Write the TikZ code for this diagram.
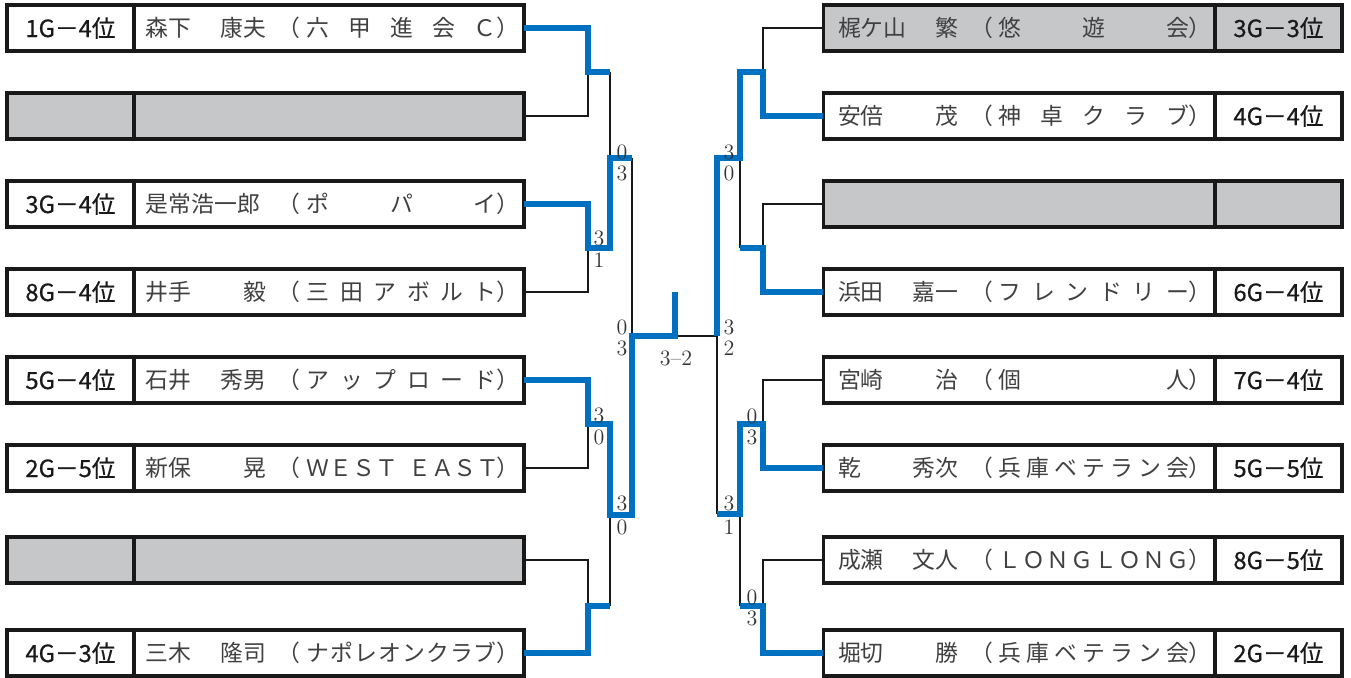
\documentclass[tikz,border=0pt]{standalone}
\usepackage{fontspec}
\usetikzlibrary{positioning}

\newfontfamily\jpfont{Noto Sans CJK JP}
\newfontfamily\rankfont{Noto Sans CJK JP}[FakeBold=0.6]
\newlength\pxu
\setlength\pxu{0.02cm}
\definecolor{winblue}{RGB}{0,112,192}
\definecolor{boxgray}{RGB}{198,199,201}
% name, given name, club (club letters spread with \hfill)
\newcommand{\meibo}[4][12]{\makebox[390\pxu][l]{\hspace*{#1\pxu}\makebox[120\pxu][s]{#2\hfill #3}\hspace*{12\pxu}（\hspace*{6\pxu}\makebox[190\pxu][s]{#4}）}}

\tikzset{
  rankbox/.style={draw=black!90, line width=1.8pt, outer sep=0pt, inner sep=0pt,
    minimum width=2.54cm, minimum height=0.92cm, text=black!90,
    font=\rankfont\fontsize{13.5}{14}\selectfont},
  namebox/.style={draw=black!90, line width=1.8pt, outer sep=0pt, inner sep=0pt,
    minimum width=7.8cm, minimum height=0.92cm, text=black!75,
    font=\jpfont\fontsize{13}{14}\selectfont},
  vacant/.style={fill=boxgray},
  score/.style={inner sep=0pt, text=black!80, font=\fontsize{12.5}{12.5}\selectfont},
  bline/.style={draw=black!90, line width=1.5pt},
  wline/.style={draw=winblue, line width=3.4pt}
}

\begin{document}
\begin{tikzpicture}[x=0.02cm, y=-0.02cm]
        \useasboundingbox (0,0) rectangle (1351,677);

        % left half
        \node[rankbox] (L1r) at (70.5,28) {1G－4位};
        \node[namebox, right=0pt of L1r] (L1n) {\meibo{森下}{康夫}{六\hfill 甲\hfill 進\hfill 会\hfill Ｃ}};
        \node[rankbox, vacant] (L2r) at (70.5,116) {};
        \node[namebox, vacant, right=0pt of L2r] (L2n) {};
        \node[rankbox] (L3r) at (70.5,204) {3G－4位};
        \node[namebox, right=0pt of L3r] (L3n) {\meibo{是常浩一郎}{}{ポ\hfill パ\hfill イ}};
        \node[rankbox] (L4r) at (70.5,292) {8G－4位};
        \node[namebox, right=0pt of L4r] (L4n) {\meibo{井手}{毅}{三\hfill 田\hfill ア\hfill ボ\hfill ル\hfill ト}};
        \node[rankbox] (L5r) at (70.5,380) {5G－4位};
        \node[namebox, right=0pt of L5r] (L5n) {\meibo{石井}{秀男}{ア\hfill ッ\hfill プ\hfill ロ\hfill ー\hfill ド}};
        \node[rankbox] (L6r) at (70.5,468) {2G－5位};
        \node[namebox, right=0pt of L6r] (L6n) {\meibo{新保}{晃}{Ｗ\hfill Ｅ\hfill Ｓ\hfill Ｔ\hspace*{10\pxu}\hfill Ｅ\hfill Ａ\hfill Ｓ\hfill Ｔ}};
        \node[rankbox, vacant] (L7r) at (70.5,560) {};
        \node[namebox, vacant, right=0pt of L7r] (L7n) {};
        \node[rankbox] (L8r) at (70.5,653) {4G－3位};
        \node[namebox, right=0pt of L8r] (L8n) {\meibo{三木}{隆司}{ナ\hfill ポ\hfill レ\hfill オ\hfill ン\hfill ク\hfill ラ\hfill ブ}};

        % right half
        \node[rankbox, vacant] (R1r) at (1278.5,28) {3G－3位};
        \node[namebox, vacant, minimum width=7.84cm, left=0pt of R1r] (R1n) {\meibo[14]{梶ケ山}{繁}{悠\hfill 遊\hfill 会}};
        \node[rankbox] (R2r) at (1278.5,116) {4G－4位};
        \node[namebox, minimum width=7.84cm, left=0pt of R2r] (R2n) {\meibo[14]{安倍}{茂}{神\hfill 卓\hfill ク\hfill ラ\hfill ブ}};
        \node[rankbox, vacant] (R3r) at (1278.5,204) {};
        \node[namebox, vacant, minimum width=7.84cm, left=0pt of R3r] (R3n) {};
        \node[rankbox] (R4r) at (1278.5,292) {6G－4位};
        \node[namebox, minimum width=7.84cm, left=0pt of R4r] (R4n) {\meibo[14]{浜田}{嘉一}{フ\hfill レ\hfill ン\hfill ド\hfill リ\hfill ー}};
        \node[rankbox] (R5r) at (1278.5,380) {7G－4位};
        \node[namebox, minimum width=7.84cm, left=0pt of R5r] (R5n) {\meibo[14]{宮崎}{治}{個\hfill 人}};
        \node[rankbox] (R6r) at (1278.5,468) {5G－5位};
        \node[namebox, minimum width=7.84cm, left=0pt of R6r] (R6n) {\meibo[14]{乾}{秀次}{兵\hfill 庫\hfill ベ\hfill テ\hfill ラ\hfill ン\hfill 会}};
        \node[rankbox] (R7r) at (1278.5,560) {8G－5位};
        \node[namebox, minimum width=7.84cm, left=0pt of R7r] (R7n) {\meibo[14]{成瀬}{文人}{Ｌ\hfill Ｏ\hfill Ｎ\hfill Ｇ\hfill Ｌ\hfill Ｏ\hfill Ｎ\hfill Ｇ}};
        \node[rankbox] (R8r) at (1278.5,653) {2G－4位};
        \node[namebox, minimum width=7.84cm, left=0pt of R8r] (R8n) {\meibo[14]{堀切}{勝}{兵\hfill 庫\hfill ベ\hfill テ\hfill ラ\hfill ン\hfill 会}};

        % junctions
        \coordinate (la1) at (588,72);
        \coordinate (la2) at (588,248);
        \coordinate (la3) at (588,424);
        \coordinate (la4) at (588,606);
        \coordinate (lb1) at (610,158);
        \coordinate (lb2) at (610,515);
        \coordinate (lc) at (632,336);
        \coordinate (ra1) at (763,72);
        \coordinate (ra2) at (763,248);
        \coordinate (ra3) at (763,424);
        \coordinate (ra4) at (763,606);
        \coordinate (rb1) at (740,158);
        \coordinate (rb2) at (740,514);
        \coordinate (rc) at (717,336);
        \coordinate (fin) at (675,336);
        \coordinate (champ) at (675,292);

        % losers
        \draw[bline] (L2n.east) -| (la1);
        \draw[bline] (L4n.east) -| (la2);
        \draw[bline] (L6n.east) -| (la3);
        \draw[bline] (L7n.east) -| (la4);
        \draw[bline] (la1 -| lb1) -- (lb1);
        \draw[bline] (la4 -| lb2) -- (lb2);
        \draw[bline] (lb1 -| lc) -- (lc);
        \draw[bline] (fin) -- (rc);
        \draw[bline] (R1n.west) -| (ra1);
        \draw[bline] (R3n.west) -| (ra2);
        \draw[bline] (R5n.west) -| (ra3);
        \draw[bline] (R7n.west) -| (ra4);
        \draw[bline] (ra2 -| rb1) -- (rb1);
        \draw[bline] (ra4 -| rb2) -- (rb2);
        \draw[bline] (rb2 -| rc) -- (rc);

        % winners
        \draw[wline] (L1n.east) -| (la1) -- (la1 -| lb1);
        \draw[wline] (L3n.east) -| (la2) -- (la2 -| lb1) -- (lb1) -- (lb1 -| lc);
        \draw[wline] (L5n.east) -| (la3) -- (la3 -| lb2) -- (lb2) -- (lb2 -| lc) -- (lc) -- (fin) -- (champ);
        \draw[wline] (L8n.east) -| (la4) -- (la4 -| lb2);
        \draw[wline] (R2n.west) -| (ra1) -- (ra1 -| rb1) -- (rb1) -- (rb1 -| rc) -- (rc);
        \draw[wline] (R4n.west) -| (ra2) -- (ra2 -| rb1);
        \draw[wline] (R6n.west) -| (ra3) -- (ra3 -| rb2) -- (rb2) -- (rb2 -| rc);
        \draw[wline] (R8n.west) -| (ra4) -- (ra4 -| rb2);

        % scores
        \node[score] (sa1) at (599,238) {3};
        \node[score] (sa2) at (599,260) {1};
        \node[score] (sa3) at (599,415) {3};
        \node[score] (sa4) at (599,437) {0};
        \node[score] (sb1) at (622,152) {0};
        \node[score] (sb2) at (622,173) {3};
        \node[score] (sb3) at (622,503) {3};
        \node[score] (sb4) at (622,527) {0};
        \node[score] (sc1) at (622,327) {0};
        \node[score] (sc2) at (622,348) {3};
        \node[score] (tc1) at (729,327) {3};
        \node[score] (tc2) at (729,348) {2};
        \node[score] (tb1) at (729,152) {3};
        \node[score] (tb2) at (729,173) {0};
        \node[score] (tb3) at (729,503) {3};
        \node[score] (tb4) at (729,527) {1};
        \node[score] (ta1) at (752,416) {0};
        \node[score] (ta2) at (752,437) {3};
        \node[score] (ta3) at (752,597) {0};
        \node[score] (ta4) at (752,618) {3};
        \node[score] (res) at (676,358) {3--2};
\end{tikzpicture}
\end{document}
